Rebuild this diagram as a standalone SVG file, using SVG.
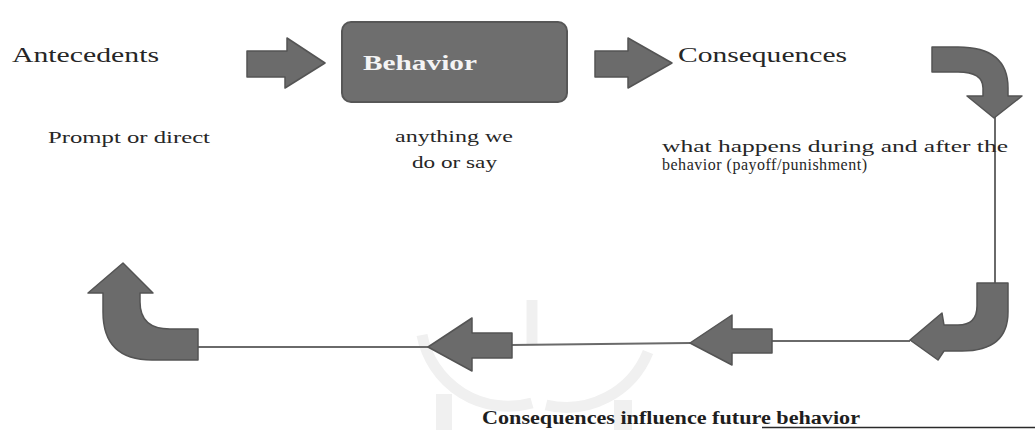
<svg xmlns="http://www.w3.org/2000/svg" width="1035" height="430" viewBox="0 0 1035 430">
<style>
.t{font-family:"Liberation Serif","Times New Roman",serif;fill:#262626}
.big{font-size:22px}
.sm{font-size:16px}
.md{font-size:17px}
.arr{fill:#6b6b6b;stroke:#545454;stroke-width:1.5;stroke-linejoin:round}
.ln{stroke:#6a6a6a;stroke-width:2;fill:none}
.wm{fill:none;stroke:#f0f0f0;stroke-width:11}
</style>
<rect width="1035" height="430" fill="#ffffff"/>
<g id="watermark">
<path class="wm" d="M422,335 A88,88 0 0 0 532,403"/>
<path class="wm" d="M648,352 A88,88 0 0 1 546,405"/>
<line class="wm" x1="532" y1="300" x2="532" y2="345" stroke-width="6"/>
<rect x="436" y="394" width="16" height="36" fill="#f0f0f0"/>
<rect x="614" y="400" width="18" height="30" fill="#f0f0f0"/>
</g>
<g id="connectors">
<line class="ln" x1="995" y1="116" x2="995" y2="283"/>
<polyline class="ln" points="910,341 772,341"/>
<polyline class="ln" points="690,343 512,345"/>
<polyline class="ln" points="428,347 198,347"/>
<line x1="762" y1="427.5" x2="1035" y2="427.5" stroke="#2a2a2a" stroke-width="1.5"/>
<path id="arrow-ab" class="arr" d="M247,51 L287,51 L287,38 L325,63 L285,88 L285,77 L247,77 Z"/>
<path id="arrow-bc" class="arr" d="M595,51 L628,51 L628,38 L672,63 L628,88 L628,77 L595,77 Z"/>
<path id="arrow-curve-top" class="arr" d="M932,47 L958,47 Q1008,47 1008,88 L1008,96 L1022,96 L994,118 L967,96 L983,96 L983,88 Q983,72 958,72 L932,72 Z"/>
<path id="arrow-curve-right" class="arr" d="M977,283 L1008,283 L1008,312 Q1008,351 962,351 L944,351 L938,360 L910,340 L942,313 L944,325 L958,325 Q977,325 977,306 Z"/>
<path id="arrow-left-1" class="arr" d="M772,329 L772,353 L732,353 L732,365 L690,343 L732,315 L732,329 Z"/>
<path id="arrow-left-2" class="arr" d="M512,333 L512,358 L472,358 L472,371 L428,347 L472,318 L472,333 Z"/>
<path id="arrow-curve-left" class="arr" d="M198,329 L170,329 Q140,329 140,302 L140,293 L153,293 L123,263 L88,293 L103,293 L103,312 Q103,360 152,360 L198,360 Z"/>
</g>
<g id="antecedents">
<text class="t big" x="12" y="62" textLength="147" lengthAdjust="spacingAndGlyphs">Antecedents</text>
<text class="t sm" x="48" y="143" textLength="162" lengthAdjust="spacingAndGlyphs">Prompt or direct</text>
</g>
<g id="behavior">
<rect x="342" y="22" width="225" height="80" rx="9" fill="#6e6e6e" stroke="#575757" stroke-width="2"/>
<text x="363" y="70" font-family="Liberation Serif, Times New Roman, serif" font-weight="bold" font-size="20" fill="#f4f4f4" textLength="114" lengthAdjust="spacingAndGlyphs">Behavior</text>
<text class="t sm" x="395" y="142" textLength="118" lengthAdjust="spacingAndGlyphs">anything we</text>
<text class="t sm" x="412" y="168" textLength="85" lengthAdjust="spacingAndGlyphs">do or say</text>
</g>
<g id="consequences">
<text class="t sm" x="662" y="152" textLength="346" lengthAdjust="spacingAndGlyphs">what happens during and after the</text>
<text class="t sm" x="662" y="170" textLength="205" lengthAdjust="spacing">behavior (payoff/punishment)</text>
<text class="t big" x="678" y="62" textLength="169" lengthAdjust="spacingAndGlyphs">Consequences</text>
</g>
<g id="influence">
<text x="482" y="424" font-family="Liberation Serif, Times New Roman, serif" font-weight="bold" font-size="18" fill="#1e1e1e" textLength="378" lengthAdjust="spacingAndGlyphs">Consequences influence future behavior</text>
</g>
</svg>
